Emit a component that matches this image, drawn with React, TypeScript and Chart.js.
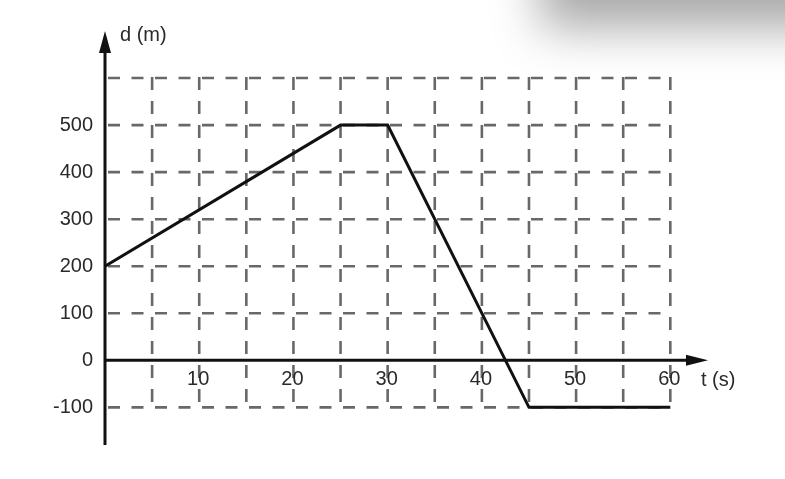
import React, { useEffect, useRef } from "react";
import { Chart, registerables } from "chart.js";

Chart.register(...registerables);

// ---- data ----
const timeValues = [0, 25, 30, 45, 60];
const distanceValues = [200, 500, 500, -100, -100];

const xGridValues = [5, 10, 15, 20, 25, 30, 35, 40, 45, 50, 55, 60];
const yGridValues = [-100, 100, 200, 300, 400, 500, 600];
const xTickValues = [10, 20, 30, 40, 50, 60];
const xTickLabels = ["10", "20", "30", "40", "50", "60"];
const yTickValues = [-100, 0, 100, 200, 300, 400, 500];
const yTickLabels = ["-100", "0", "100", "200", "300", "400", "500"];
const xAxisTitle = "t (s)";
const yAxisTitle = "d (m)";

const X_MIN = 0;
const X_MAX = 64;
const Y_MIN = -180;
const Y_MAX = 700;
const GRID_X_MIN = 0;
const GRID_X_MAX = 60;
const GRID_Y_MIN = -100;
const GRID_Y_MAX = 600;

const FONT = '20px "Liberation Sans", Arial, sans-serif';
const TEXT_COLOR = "#2a2a2a";

const gridPlugin = {
  id: "dashedGrid",
  beforeDatasetsDraw(chart: any) {
    const { ctx, scales } = chart;
    const xs = scales.x;
    const ys = scales.y;
    ctx.save();
    ctx.strokeStyle = "#686868";
    ctx.lineWidth = 2.6;
    ctx.setLineDash([12, 11.5]);
    const left = xs.getPixelForValue(GRID_X_MIN);
    const right = xs.getPixelForValue(GRID_X_MAX);
    const top = ys.getPixelForValue(GRID_Y_MAX);
    const bottom = ys.getPixelForValue(GRID_Y_MIN);
    for (const v of yGridValues) {
      const y = ys.getPixelForValue(v);
      ctx.beginPath();
      ctx.moveTo(left + 3, y);
      ctx.lineTo(right, y);
      ctx.stroke();
    }
    ctx.setLineDash([13, 11]);
    for (const v of xGridValues) {
      const x = xs.getPixelForValue(v);
      ctx.beginPath();
      ctx.moveTo(x, top - 1);
      ctx.lineTo(x, bottom);
      ctx.stroke();
    }
    ctx.restore();
  },
  afterDatasetsDraw(chart: any) {
    const { ctx, scales } = chart;
    const xs = scales.x;
    const ys = scales.y;
    const x0 = xs.getPixelForValue(0);
    const y0 = ys.getPixelForValue(0);
    const xEnd = xs.getPixelForValue(X_MAX);
    const yTop = ys.getPixelForValue(Y_MAX);
    const yBottom = ys.getPixelForValue(Y_MIN);
    ctx.save();
    ctx.strokeStyle = "#111";
    ctx.fillStyle = "#111";
    ctx.lineWidth = 3;
    ctx.setLineDash([]);
    // y axis
    ctx.beginPath();
    ctx.moveTo(x0, yBottom);
    ctx.lineTo(x0, yTop + 14);
    ctx.stroke();
    ctx.beginPath();
    ctx.moveTo(x0, yTop);
    ctx.lineTo(x0 - 6, yTop + 22);
    ctx.lineTo(x0 + 6, yTop + 22);
    ctx.closePath();
    ctx.fill();
    // x axis
    ctx.beginPath();
    ctx.moveTo(x0, y0);
    ctx.lineTo(xEnd - 14, y0);
    ctx.stroke();
    ctx.beginPath();
    ctx.moveTo(xEnd, y0);
    ctx.lineTo(xEnd - 22, y0 - 5.5);
    ctx.lineTo(xEnd - 22, y0 + 5.5);
    ctx.closePath();
    ctx.fill();

    // labels
    ctx.font = FONT;
    ctx.fillStyle = TEXT_COLOR;
    ctx.textAlign = "right";
    ctx.textBaseline = "middle";
    yTickValues.forEach((v, i) => {
      ctx.fillText(yTickLabels[i], x0 - 12, ys.getPixelForValue(v));
    });
    ctx.textAlign = "center";
    xTickValues.forEach((v, i) => {
      ctx.fillText(xTickLabels[i], xs.getPixelForValue(v) - 1, y0 + 19);
    });
    ctx.textAlign = "left";
    ctx.fillText(xAxisTitle, xEnd - 7, y0 + 20);
    ctx.fillText(yAxisTitle, x0 + 15, yTop + 4);
    ctx.restore();
  },
};

export default function App() {
  const canvasRef = useRef<HTMLCanvasElement | null>(null);

  useEffect(() => {
    if (!canvasRef.current) return;
    const chart = new Chart(canvasRef.current, {
      type: "scatter",
      data: {
        datasets: [
          {
            data: timeValues.map((t, i) => ({ x: t, y: distanceValues[i] })),
            showLine: true,
            borderColor: "#111",
            borderWidth: 3,
            pointRadius: 0,
            fill: false,
            tension: 0,
          },
        ],
      },
      options: {
        responsive: false,
        animation: false,
        layout: { padding: { left: 105, right: 77, top: 31, bottom: 34 } },
        plugins: {
          legend: { display: false },
          tooltip: { enabled: false },
        },
        scales: {
          x: { type: "linear", min: X_MIN, max: X_MAX, display: false },
          y: { type: "linear", min: Y_MIN, max: Y_MAX, display: false },
        },
      },
      plugins: [gridPlugin],
    });
    return () => chart.destroy();
  }, []);

  return (
    <div
      style={{
        position: "absolute",
        left: 0,
        top: 0,
        width: 785,
        height: 479,
        background: "#fff",
        overflow: "hidden",
      }}
    >
      <div
        style={{
          position: "absolute",
          left: 560,
          top: -70,
          width: 280,
          height: 70,
          background: "#999",
          boxShadow: "0 8px 48px 20px rgba(0,0,0,0.34)",
        }}
      />
      <canvas
        ref={canvasRef}
        width={785}
        height={479}
        style={{ position: "absolute", left: 0, top: 0 }}
      />
    </div>
  );
}
